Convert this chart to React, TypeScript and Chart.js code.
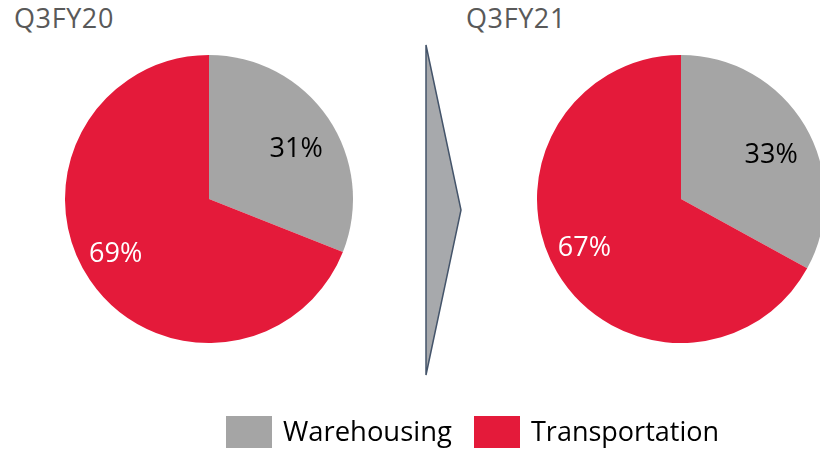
import React, { useEffect, useRef } from "react";
import { Chart, registerables } from "chart.js";

Chart.register(...registerables);

const categories = ["Warehousing", "Transportation"];
const periods = ["Q3FY20", "Q3FY21"];
const valuesQ3FY20 = [31, 69];
const valuesQ3FY21 = [33, 67];
const sliceColors = ["#A5A5A5", "#E41A3A"];
const labelColors = ["#000000", "#FFFFFF"];

const FONT = "'Open Sans', 'Noto Sans', sans-serif";

const pctLabels = {
  id: "pctLabels",
  afterDatasetsDraw(chart: any) {
    const ctx = chart.ctx;
    const meta = chart.getDatasetMeta(0);
    const data = chart.data.datasets[0].data;
    ctx.save();
    ctx.font = `27px ${FONT}`;
    ctx.textAlign = "center";
    ctx.textBaseline = "middle";
    meta.data.forEach((arc: any, i: number) => {
      const p = arc.getProps(["x", "y", "startAngle", "endAngle", "outerRadius"], true);
      const mid = (p.startAngle + p.endAngle) / 2 + 0.07;
      const r = p.outerRadius * (i === 0 ? 0.7 : 0.75);
      ctx.fillStyle = labelColors[i];
      ctx.fillText(`${data[i]}%`, p.x + Math.cos(mid) * r, p.y + Math.sin(mid) * r + 1);
    });
    ctx.restore();
  },
};

function Pie({ values, left }: { values: number[]; left: number }) {
  const ref = useRef<HTMLCanvasElement>(null);
  useEffect(() => {
    const chart = new Chart(ref.current!, {
      type: "pie",
      data: {
        labels: categories,
        datasets: [{ data: values, backgroundColor: sliceColors, borderWidth: 0 }],
      },
      options: {
        responsive: false,
        maintainAspectRatio: false,
        animation: false,
        layout: { padding: 0 },
        plugins: { legend: { display: false }, tooltip: { enabled: false }, title: { display: false } },
      },
      plugins: [pctLabels],
    });
    return () => chart.destroy();
  }, []);
  return (
    <canvas
      ref={ref}
      width={288}
      height={288}
      style={{ position: "absolute", left, top: 55, width: 288, height: 288 }}
    />
  );
}

export default function App() {
  return (
    <div
      style={{
        position: "fixed",
        left: 0,
        top: 0,
        width: 820,
        height: 449,
        overflow: "hidden",
        background: "#fff",
        fontFamily: FONT,
      }}
    >
      <div style={{ position: "absolute", left: 14, top: -1, fontSize: 27, letterSpacing: 0.6, color: "#595959", lineHeight: "normal" }}>
        {periods[0]}
      </div>
      <div style={{ position: "absolute", left: 466, top: -1, fontSize: 27, letterSpacing: 0.6, color: "#595959", lineHeight: "normal" }}>
        {periods[1]}
      </div>
      <Pie values={valuesQ3FY20} left={65} />
      <Pie values={valuesQ3FY21} left={537} />
      <svg width={820} height={449} style={{ position: "absolute", left: 0, top: 0 }}>
        <polygon points="426,45 461,210 426,375" fill="#A7A9AC" stroke="#44546A" strokeWidth={1.5} />
      </svg>
      <div style={{ position: "absolute", left: 226, top: 416, width: 46, height: 32, background: sliceColors[0] }} />
      <div style={{ position: "absolute", left: 283, top: 412, fontSize: 27.4, color: "#000", lineHeight: "normal", whiteSpace: "nowrap" }}>
        {categories[0]}
      </div>
      <div style={{ position: "absolute", left: 474, top: 416, width: 46, height: 32, background: sliceColors[1] }} />
      <div style={{ position: "absolute", left: 531, top: 412, fontSize: 27, color: "#000", lineHeight: "normal", whiteSpace: "nowrap" }}>
        {categories[1]}
      </div>
    </div>
  );
}
